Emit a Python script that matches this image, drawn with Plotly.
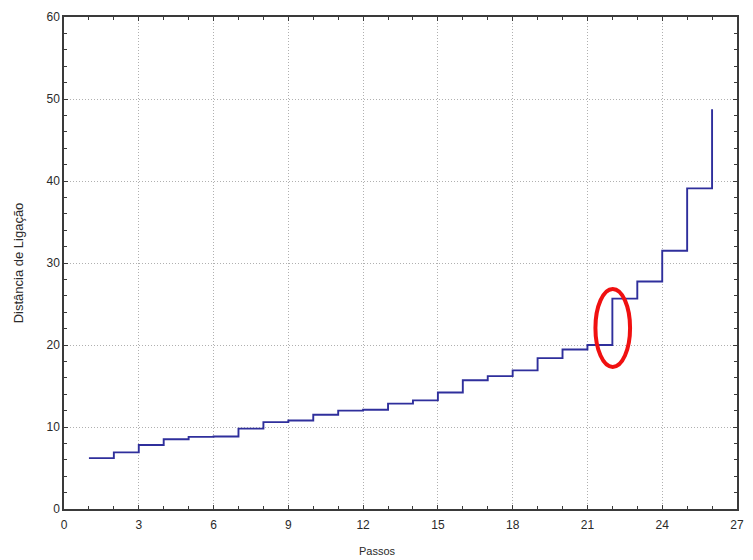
import plotly.graph_objects as go

# Data (linkage distance per step)
passos = list(range(1, 27))
distancia = [6.2, 6.9, 7.8, 8.5, 8.8, 8.85, 9.8, 10.6, 10.8, 11.5, 12.0, 12.1,
             12.85, 13.25, 14.2, 15.7, 16.2, 16.9, 18.4, 19.45, 20.0, 25.65,
             27.75, 31.5, 39.1, 48.75]

x_ticks = [0, 3, 6, 9, 12, 15, 18, 21, 24, 27]
y_ticks = [0, 10, 20, 30, 40, 50, 60]

font_family = "Liberation Sans, Arial, sans-serif"
axis_color = "#3a3a3a"
text_color = "#2a2a2a"

fig = go.Figure()
fig.add_trace(go.Scatter(
    x=passos, y=distancia, mode="lines",
    line=dict(shape="hv", color="#2F2F9C", width=1.9),
    showlegend=False, hoverinfo="x+y"))

common_axis = dict(
    showline=True, linecolor=axis_color, linewidth=1.5, mirror="ticks",
    ticks="inside", ticklen=4, tickwidth=1, tickcolor=axis_color,
    showgrid=True, gridcolor="#b0b0b0", griddash="1px,2px", gridwidth=1,
    zeroline=False, tickfont=dict(family=font_family, size=12, color=text_color),
)

fig.update_xaxes(
    range=[0, 27], tickmode="array", tickvals=x_ticks, ticklabelstandoff=4,
    minor=dict(dtick=1, ticks="inside", ticklen=3, tickcolor=axis_color, showgrid=False),
    **common_axis)
fig.update_yaxes(
    range=[0, 60], tickmode="array", tickvals=y_ticks,
    minor=dict(dtick=2, ticks="inside", ticklen=3, tickcolor=axis_color, showgrid=False),
    title=dict(text="Distância de Ligação", font=dict(family=font_family, size=13, color=text_color), standoff=20),
    **common_axis)

# Red ellipse highlighting the jump
fig.add_shape(type="circle", xref="x", yref="y",
              x0=21.32, x1=22.71, y0=17.32, y1=26.83,
              line=dict(color="#F01010", width=4))

# x-axis title
fig.add_annotation(text="Passos", xref="paper", yref="paper", x=0.466, y=0,
                   yshift=-42, showarrow=False, xanchor="center", yanchor="middle",
                   font=dict(family=font_family, size=11, color=text_color))

fig.update_layout(
    width=753, height=560,
    margin=dict(l=64, r=9, t=17, b=51),
    paper_bgcolor="white", plot_bgcolor="white",
)

fig.write_html("out.html")
